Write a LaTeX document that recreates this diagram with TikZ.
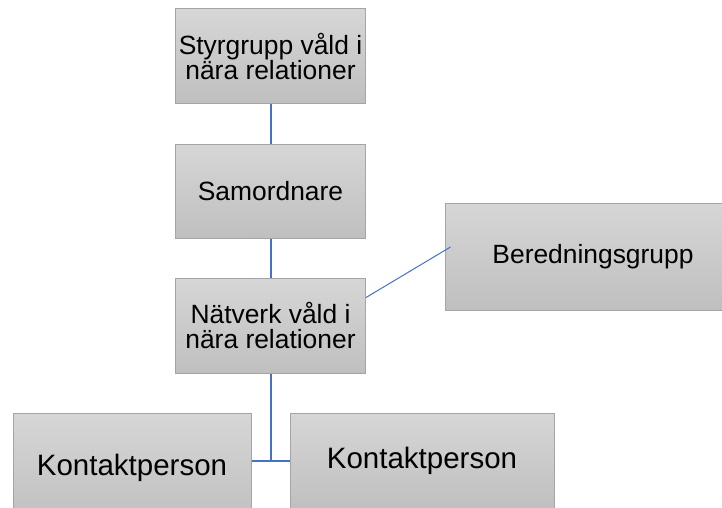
\documentclass[tikz,border=0pt]{standalone}
\usepackage{fontspec}
\setmainfont{Liberation Sans}
\definecolor{linkblue}{HTML}{4472C4}
\definecolor{boxline}{HTML}{A5A5A5}
\begin{document}
\begin{tikzpicture}[x=1pt,y=-1pt,
box/.style={draw=boxline,line width=1pt,top color=black!16,bottom color=black!25,inner sep=0pt,align=center,font=\fontsize{26.4}{25}\selectfont},
link/.style={draw=linkblue,line width=2pt}]
\useasboundingbox (0,0) rectangle (722,507);
\clip (0,0) rectangle (722,507);
\node[box,minimum width=190pt,minimum height=95pt] (styr) at (270.5,56) {Styrgrupp våld i\\nära relationer};
\node[box,minimum width=190pt,minimum height=94pt] (samo) at (270.5,191) {Samordnare};
\node[box,minimum width=190pt,minimum height=95pt] (natv) at (270.5,325.5) {Nätverk våld i\\nära relationer};
\node[box,minimum width=296pt,minimum height=107pt] (bered) at (593,256.5) {Beredningsgrupp};
\node[box,minimum width=238pt,minimum height=110pt,font=\fontsize{29.5}{30}\selectfont] (kp1) at (132,468) {Kontaktperson};
\node[box,minimum width=264pt,minimum height=96pt,font=\fontsize{29.5}{30}\selectfont] (kp2) at (422,461) {Kontaktperson};
\coordinate (jn) at (270.5,461);
\draw[link] (styr) -- (samo);
\draw[link] (samo) -- (natv);
\draw[link] (natv) -- (jn);
\draw[link] (kp1.east |- jn) -- (kp2.west |- jn);
\draw[linkblue,line width=1pt] ([yshift=28pt]natv.east) -- ([xshift=6pt,yshift=9.5pt]bered.west);
\end{tikzpicture}
\end{document}
